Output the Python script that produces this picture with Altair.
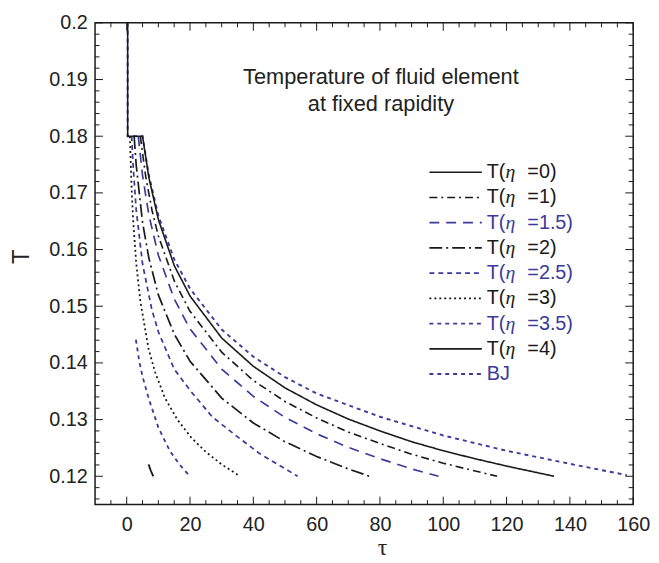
import altair as alt
import pandas as pd

# ---------------- data ----------------
tau_eta0 = [0.3, 0.3, 5, 7, 10, 15, 20, 30, 40, 50, 60, 70, 80, 90, 100, 110, 120, 135]
T_eta0 = [0.2, 0.18, 0.18, 0.1727, 0.1653, 0.1572, 0.1518, 0.1444, 0.1394, 0.1356,
          0.1326, 0.1301, 0.1280, 0.1261, 0.1245, 0.1231, 0.1218, 0.1200]

tau_eta1 = [4.3, 6, 8, 10, 15, 20, 30, 40, 50, 60, 70, 80, 90, 100, 117]
T_eta1 = [0.18, 0.1729, 0.1669, 0.1624, 0.1545, 0.1491, 0.1419, 0.1369, 0.1332,
          0.1303, 0.1278, 0.1258, 0.1239, 0.1223, 0.1200]

tau_eta15 = [3.65, 5, 7, 10, 15, 20, 30, 40, 50, 60, 70, 80, 90, 98.5]
T_eta15 = [0.18, 0.1731, 0.1661, 0.1590, 0.1513, 0.1460, 0.1389, 0.1341, 0.1304,
           0.1275, 0.1251, 0.1231, 0.1213, 0.1200]

tau_eta2 = [2.34, 3, 5, 7, 10, 15, 20, 30, 40, 50, 60, 70, 76.7]
T_eta2 = [0.18, 0.1749, 0.1648, 0.1585, 0.1520, 0.1451, 0.1403, 0.1338, 0.1294,
          0.1261, 0.1235, 0.1213, 0.1200]

tau_eta25 = [1.56, 2, 3, 5, 7.9, 10, 15, 20.4, 27, 34, 42, 48, 54]
T_eta25 = [0.18, 0.1750, 0.1670, 0.1575, 0.1495, 0.1455, 0.1389, 0.1349, 0.1305,
           0.1274, 0.1240, 0.1220, 0.1200]

tau_eta3 = [1.0, 1.5, 2, 3, 4.3, 6.9, 9, 12.1, 16, 20.4, 25, 30, 35.5]
T_eta3 = [0.18, 0.1714, 0.1655, 0.1576, 0.1509, 0.1425, 0.1383, 0.1338, 0.1300,
          0.1268, 0.1243, 0.1221, 0.1201]

tau_eta35 = [2.9, 4, 5, 6.9, 10, 13.6, 16.5, 19.6]
T_eta35 = [0.1441, 0.1402, 0.1376, 0.1338, 0.1286, 0.1245, 0.1222, 0.1202]

tau_eta4 = [6.9, 7.6, 8.4]
T_eta4 = [0.1221, 0.1210, 0.1200]

tau_bj = [0.3, 0.3, 5, 7, 10, 15, 20, 30, 40, 50, 60, 80, 100, 120, 140, 158]
T_bj = [0.2, 0.18, 0.18, 0.1731, 0.1660, 0.1583, 0.1531, 0.1459, 0.1411, 0.1375,
        0.1346, 0.1305, 0.1272, 0.1245, 0.1222, 0.1202]

series = ["η=0", "η=1", "η=1.5", "η=2", "η=2.5", "η=3", "η=3.5", "η=4", "BJ"]
legend_lead = ["T(", "T(", "T(", "T(", "T(", "T(", "T(", "T(", "BJ"]
legend_eta = ["η", "η", "η", "η", "η", "η", "η", "η", ""]
legend_tail = ["=0)", "=1)", "=1.5)", "=2)", "=2.5)", "=3)", "=3.5)", "=4)", ""]

title_lines = ["Temperature of fluid element", "at fixed rapidity"]

x_major = [0, 20, 40, 60, 80, 100, 120, 140, 160]
x_minor = [-5, 5, 10, 15, 25, 30, 35, 45, 50, 55, 65, 70, 75, 85, 90, 95,
           105, 110, 115, 125, 130, 135, 145, 150, 155]
y_major = [0.12, 0.13, 0.14, 0.15, 0.16, 0.17, 0.18, 0.19, 0.2]
y_minor = [0.116, 0.118, 0.122, 0.124, 0.126, 0.128, 0.132, 0.134, 0.136, 0.138,
           0.142, 0.144, 0.146, 0.148, 0.152, 0.154, 0.156, 0.158, 0.162, 0.164,
           0.166, 0.168, 0.172, 0.174, 0.176, 0.178, 0.182, 0.184, 0.186, 0.188,
           0.192, 0.194, 0.196, 0.198]

# ---------------- styles ----------------
BLACK = "#1a1a1a"
BLUE = "#3a3a9c"
colors = [BLACK, BLACK, BLUE, BLACK, BLUE, BLACK, BLUE, BLACK, BLUE]
dashes = [[1, 0], [8, 4, 2, 4], [10, 7], [13, 4, 2, 4], [5, 4], [2, 3], [4, 4], [1, 0], [4, 4]]
widths = [1.6, 1.9, 1.0, 2.0, 1.0, 2.0, 1.0, 1.6, 1.0]

W, H = 544, 487
FONT = "Liberation Sans"
MAJ, MIN = 8, 4.5

# ---------------- tables ----------------
curves = [
    ("BJ", tau_bj, T_bj),
    ("η=4", tau_eta4, T_eta4),
    ("η=3.5", tau_eta35, T_eta35),
    ("η=3", tau_eta3, T_eta3),
    ("η=2.5", tau_eta25, T_eta25),
    ("η=2", tau_eta2, T_eta2),
    ("η=1.5", tau_eta15, T_eta15),
    ("η=1", tau_eta1, T_eta1),
    ("η=0", tau_eta0, T_eta0),
]
rows = []
for name, ts_, Ts in curves:
    for i, (t, T) in enumerate(zip(ts_, Ts)):
        rows.append({"series": name, "i": i, "tau": t, "T": T})
df = pd.DataFrame(rows)

leg = pd.DataFrame({
    "series": series,
    "row": list(range(len(series))),
    "lead": legend_lead,
    "eta": legend_eta,
    "tail": legend_tail,
})

xs = alt.Scale(domain=[-10, 160], nice=False, zero=False)
ys = alt.Scale(domain=[0.115, 0.2], nice=False, zero=False)
cs = alt.Scale(domain=series, range=colors)
ds = alt.Scale(domain=series, range=dashes)
ws = alt.Scale(domain=series, range=widths)
rs = alt.Scale(domain=[0, 8], range=[151, 355])

lines = alt.Chart(df).mark_line(clip=True, strokeCap="butt").encode(
    x=alt.X("tau:Q", scale=xs, axis=None),
    y=alt.Y("T:Q", scale=ys, axis=None),
    color=alt.Color("series:N", scale=cs, legend=None),
    strokeDash=alt.StrokeDash("series:N", scale=ds, legend=None),
    strokeWidth=alt.StrokeWidth("series:N", scale=ws, legend=None),
    detail="series:N",
    order=alt.Order("i:Q"),
)

frame_df = pd.DataFrame({"tau": [-10, 160], "T": [0.115, 0.2]})
label_axes = alt.Chart(frame_df).mark_point(opacity=0).encode(
    x=alt.X("tau:Q", scale=xs, axis=alt.Axis(
        orient="bottom", values=x_major, ticks=False, domain=False, grid=False,
        labelFont=FONT, labelFontSize=20, labelColor="#222", labelPadding=10,
        labelFlush=False, labelOverlap=False,
        title="τ", titleFont="Liberation Serif", titleFontSize=24,
        titleFontWeight="normal", titleColor="#222", titleX=290, titleY=43,
        titleBaseline="middle")),
    y=alt.Y("T:Q", scale=ys, axis=alt.Axis(
        orient="left", values=y_major, format=".2~f", ticks=False, domain=False,
        grid=False, labelFont=FONT, labelFontSize=20, labelColor="#222",
        labelPadding=8, labelFlush=False, labelOverlap=False,
        title="T", titleFont=FONT, titleFontSize=24, titleFontWeight="normal",
        titleColor="#222", titleX=-74, titleY=236,
        titleAlign="center", titleBaseline="middle")),
)

# inward ticks on all four sides
xmaj_df = pd.DataFrame({"v": x_major})
xmin_df = pd.DataFrame({"v": x_minor})
ymaj_df = pd.DataFrame({"v": y_major})
ymin_df = pd.DataFrame({"v": y_minor})


def xticks(d, y0, y1):
    return alt.Chart(d).mark_rule(color=BLACK, strokeWidth=1).encode(
        x=alt.X("v:Q", scale=xs, axis=None), y=alt.value(y0), y2=alt.value(y1))


def yticks(d, x0, x1):
    return alt.Chart(d).mark_rule(color=BLACK, strokeWidth=1).encode(
        y=alt.Y("v:Q", scale=ys, axis=None), x=alt.value(x0), x2=alt.value(x1))


tick_layers = [
    xticks(xmaj_df, H, H - MAJ), xticks(xmin_df, H, H - MIN),
    xticks(xmaj_df, 0, MAJ), xticks(xmin_df, 0, MIN),
    yticks(ymaj_df, 0, MAJ), yticks(ymin_df, 0, MIN),
    yticks(ymaj_df, W, W - MAJ), yticks(ymin_df, W, W - MIN),
]

# legend
leg_lines = alt.Chart(leg).mark_rule(strokeCap="butt").encode(
    x=alt.value(338), x2=alt.value(391),
    y=alt.Y("row:Q", scale=rs, axis=None),
    color=alt.Color("series:N", scale=cs, legend=None),
    strokeDash=alt.StrokeDash("series:N", scale=ds, legend=None),
    strokeWidth=alt.StrokeWidth("series:N", scale=ws, legend=None),
)


def leg_text(field, xpos, font, style):
    return alt.Chart(leg).mark_text(align="left", baseline="middle", font=font,
                                    fontSize=20, fontStyle=style).encode(
        x=alt.value(xpos),
        y=alt.Y("row:Q", scale=rs, axis=None),
        text=f"{field}:N",
        color=alt.Color("series:N", scale=cs, legend=None),
    )


leg_lead = leg_text("lead", 396, FONT, "normal")
leg_eta = leg_text("eta", 415, "Liberation Serif", "italic")
leg_tail = leg_text("tail", 437, FONT, "normal")

title_df = pd.DataFrame({"line": title_lines, "k": [0, 1]})
tscale = alt.Scale(domain=[0, 1], range=[55, 82])
title_txt = alt.Chart(title_df).mark_text(align="center", baseline="middle", font=FONT,
                                           fontSize=22, color="#222").encode(
    x=alt.value(289),
    y=alt.Y("k:Q", scale=tscale, axis=None),
    text="line:N",
)

chart = alt.layer(
    label_axes, *tick_layers,
    lines, leg_lines, leg_lead, leg_eta, leg_tail, title_txt,
).resolve_scale(
    y="independent"
).resolve_axis(
    x="independent", y="independent"
).properties(
    width=W, height=H,
    autosize=alt.AutoSizeParams(type="none"),
    padding={"left": 88, "top": 12, "right": 18, "bottom": 56},
    background="white",
).configure_view(stroke=BLACK, strokeWidth=1.5)

chart.save("out.html", embed_options={"renderer": "svg", "actions": False})
